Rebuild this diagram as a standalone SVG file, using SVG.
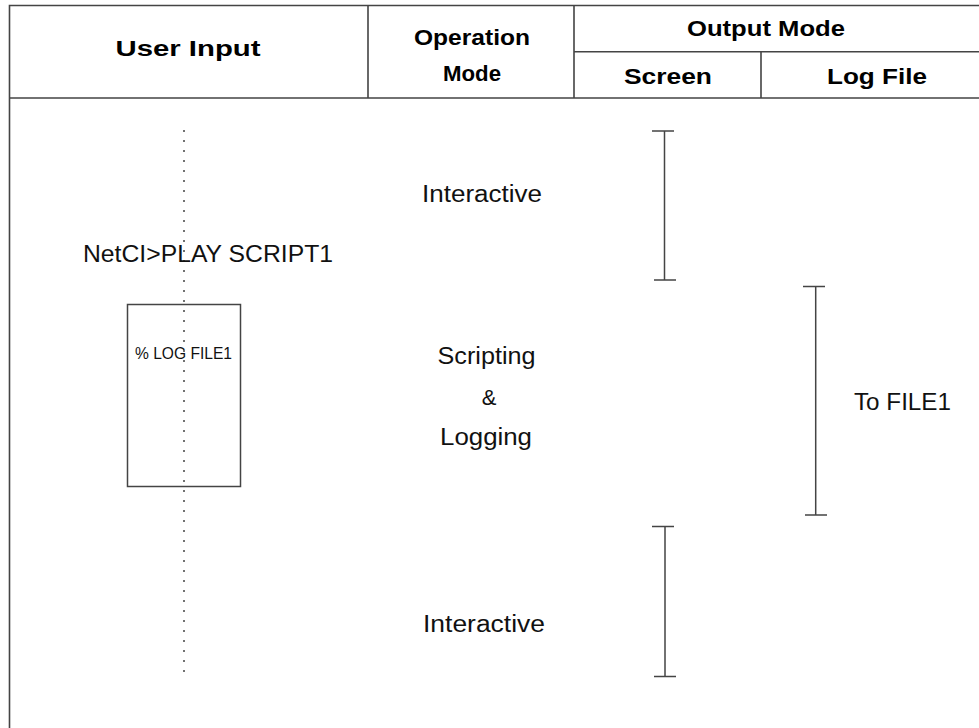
<svg xmlns="http://www.w3.org/2000/svg" width="979" height="728" viewBox="0 0 979 728">
<style>
.frame{stroke:#444;stroke-width:1.6;fill:none}
.br{stroke:#444;stroke-width:1.5;fill:none}
.hd{font-family:"Liberation Sans",Arial,sans-serif;font-weight:bold;font-size:22px;fill:#000;text-anchor:middle}
.tx{font-family:"Liberation Sans",Arial,sans-serif;font-size:23px;fill:#111;text-anchor:middle}
.sm{font-size:16.5px}
.amp{font-size:22px}
</style>
<rect width="979" height="728" fill="#fff"/>
<g id="header">
<path class="frame" d="M9.5,728 V5.5 H979 M9.5,98 H979 M574,51.7 H979 M368,5.5 V98 M574,5.5 V98 M761,51.7 V98"/>
<text class="hd" x="188" y="56" textLength="145" lengthAdjust="spacingAndGlyphs">User Input</text>
<text class="hd" x="472" y="45" textLength="116" lengthAdjust="spacingAndGlyphs">Operation</text>
<text class="hd" x="472" y="81" textLength="58" lengthAdjust="spacingAndGlyphs">Mode</text>
<text class="hd" x="766" y="36" textLength="158" lengthAdjust="spacingAndGlyphs">Output Mode</text>
<text class="hd" x="668" y="84" textLength="88" lengthAdjust="spacingAndGlyphs">Screen</text>
<text class="hd" x="877" y="84" textLength="100" lengthAdjust="spacingAndGlyphs">Log File</text>
</g>
<g id="connectors">
<line x1="184" y1="130" x2="184" y2="678" stroke="#444" stroke-width="1.5" stroke-dasharray="2 8"/>
<path class="br" d="M652,131 H674 M664.5,131 V280 M654,280 H676"/>
<path class="br" d="M803,286.5 H825 M815.7,286.5 V515 M805,515 H827"/>
<path class="br" d="M652,526.5 H674 M665,526.5 V676.5 M654,676.5 H676"/>
</g>
<g id="user-input">
<text class="tx" x="208" y="262" textLength="250" lengthAdjust="spacingAndGlyphs">NetCI&gt;PLAY SCRIPT1</text>
</g>
<g id="script-box">
<rect x="127.5" y="304.5" width="113" height="182" class="br"/>
<text class="tx sm" x="183.5" y="359" textLength="97" lengthAdjust="spacingAndGlyphs">% LOG FILE1</text>
</g>
<g id="interactive-1">
<text class="tx" x="482" y="202" textLength="120" lengthAdjust="spacingAndGlyphs">Interactive</text>
</g>
<g id="scripting-logging">
<text class="tx" x="486.5" y="364" textLength="98" lengthAdjust="spacingAndGlyphs">Scripting</text>
<text class="tx amp" x="489" y="405">&amp;</text>
<text class="tx" x="486" y="445" textLength="92" lengthAdjust="spacingAndGlyphs">Logging</text>
</g>
<g id="to-file1">
<text class="tx" x="902.5" y="410" textLength="97" lengthAdjust="spacingAndGlyphs">To FILE1</text>
</g>
<g id="interactive-2">
<text class="tx" x="484" y="632" textLength="122" lengthAdjust="spacingAndGlyphs">Interactive</text>
</g>
</svg>
